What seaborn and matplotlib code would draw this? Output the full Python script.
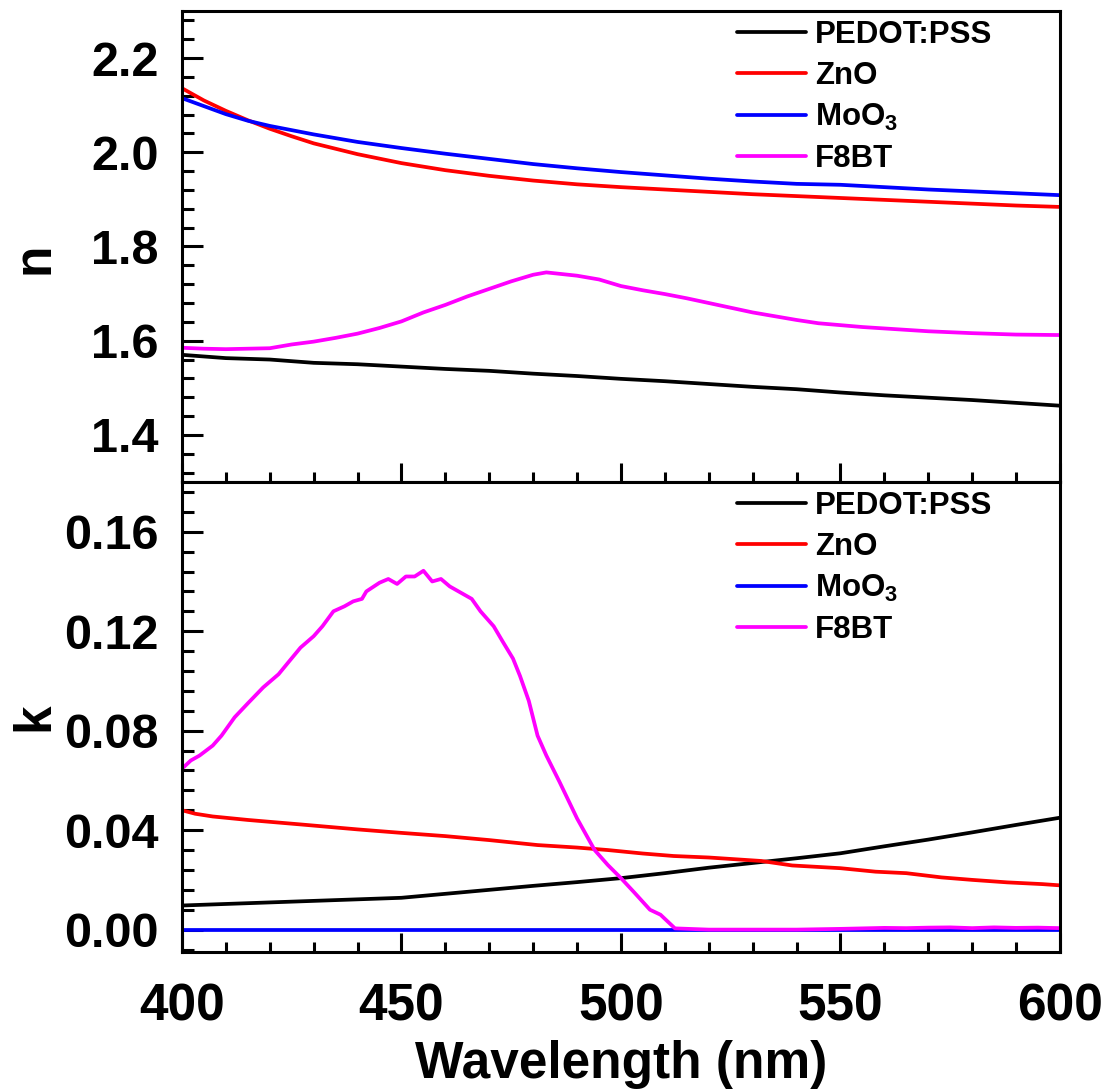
import matplotlib
matplotlib.use('Agg')
import matplotlib.pyplot as plt
from matplotlib.ticker import MultipleLocator, FormatStrFormatter
import seaborn as sns

# --- series names / colours ---
labels = ['PEDOT:PSS', 'ZnO', 'MoO$_3$', 'F8BT']
colors = ['#000000', '#ff0000', '#0000ff', '#ff00ff']

# --- refractive index n ---
wl_pedot_n = [400, 410, 420, 430, 440, 450, 460, 470, 480, 490, 500,
              510, 520, 530, 540, 550, 560, 570, 580, 590, 600]
n_pedot = [1.570, 1.563, 1.560, 1.553, 1.550, 1.545, 1.540, 1.536, 1.530, 1.525, 1.519,
           1.514, 1.508, 1.502, 1.497, 1.490, 1.484, 1.479, 1.474, 1.468, 1.462]

wl_zno_n = [400, 405, 410, 415, 420, 425, 430, 440, 450, 460, 470, 480,
            490, 500, 510, 520, 530, 540, 550, 560, 570, 580, 590, 600]
n_zno = [2.136, 2.110, 2.088, 2.068, 2.050, 2.034, 2.019, 1.996, 1.977, 1.962, 1.950, 1.940,
         1.932, 1.926, 1.921, 1.916, 1.911, 1.907, 1.903, 1.899, 1.895, 1.891, 1.887, 1.884]

wl_moo3_n = [400, 405, 410, 415, 420, 430, 440, 450, 460, 470, 480, 490,
             500, 510, 520, 530, 540, 550, 560, 570, 580, 590, 600]
n_moo3 = [2.115, 2.098, 2.081, 2.067, 2.056, 2.038, 2.022, 2.009, 1.997, 1.986, 1.975, 1.966,
          1.958, 1.951, 1.944, 1.938, 1.933, 1.931, 1.926, 1.921, 1.917, 1.913, 1.909]

wl_f8bt_n = [400, 405, 410, 415, 420, 425, 430, 435, 440, 445, 450, 455, 460, 465,
             470, 475, 480, 483, 485, 490, 495, 500, 505, 510, 515, 520, 525, 530,
             535, 540, 545, 550, 555, 560, 570, 580, 590, 600]
n_f8bt = [1.585, 1.583, 1.582, 1.583, 1.584, 1.592, 1.598, 1.606, 1.615, 1.627, 1.641, 1.660,
          1.676, 1.694, 1.710, 1.726, 1.740, 1.745, 1.743, 1.738, 1.730, 1.716, 1.707, 1.699,
          1.690, 1.680, 1.670, 1.660, 1.652, 1.644, 1.637, 1.633, 1.629, 1.626, 1.620, 1.616,
          1.613, 1.612]

# --- extinction coefficient k ---
wl_pedot_k = [400, 450, 460, 470, 480, 490, 500, 510, 520, 530, 540, 550, 560, 570, 580, 590, 600]
k_pedot = [0.0097, 0.0128, 0.0144, 0.0160, 0.0176, 0.0191, 0.0207, 0.0227, 0.0249, 0.0268,
           0.0287, 0.0307, 0.0335, 0.0362, 0.0391, 0.0421, 0.0450]

wl_zno_k = [400, 403, 407, 415, 427, 440, 450, 460, 470, 481, 490, 497, 505, 512,
            520, 532, 539, 550, 558, 565, 573, 580, 588, 596, 600]
k_zno = [0.0480, 0.0466, 0.0455, 0.0441, 0.0423, 0.0403, 0.0389, 0.0376, 0.0360, 0.0340,
         0.0330, 0.0320, 0.0306, 0.0296, 0.0290, 0.0276, 0.0258, 0.0247, 0.0233, 0.0227,
         0.0210, 0.0200, 0.0190, 0.0183, 0.0178]

wl_moo3_k = [400, 450, 500, 550, 600]
k_moo3 = [0.0, 0.0, 0.0, 0.0, 0.0]

wl_f8bt_k = [400, 402, 404, 407, 409, 412, 415, 418.5, 422, 424, 427, 430, 432, 434.5,
             437, 439, 441, 442, 445, 447, 449, 451, 453, 455, 457, 459, 461, 464, 466,
             468, 471, 473, 475.4, 477, 479, 481, 483, 486, 490, 494, 497, 500, 503,
             506.6, 509, 512.3, 520, 530, 540, 550, 555, 560, 565, 570, 575, 580, 585,
             590, 595, 600]
k_f8bt = [0.0647, 0.0680, 0.0700, 0.0740, 0.0780, 0.0854, 0.0910, 0.0974, 0.1027, 0.1070,
          0.1134, 0.1180, 0.1220, 0.1280, 0.1300, 0.1320, 0.1330, 0.1360, 0.1395, 0.1410,
          0.1390, 0.1420, 0.1420, 0.1443, 0.1400, 0.1410, 0.1380, 0.1350, 0.1330, 0.1280,
          0.1220, 0.1160, 0.1090, 0.1020, 0.0920, 0.0780, 0.0700, 0.0594, 0.0447, 0.0320,
          0.0260, 0.0207, 0.0150, 0.0080, 0.0060, 0.0005, 0.0, 0.0, 0.0, 0.0003, 0.0005,
          0.0007, 0.0006, 0.0008, 0.0009, 0.0006, 0.0009, 0.0007, 0.0008, 0.0006]

n_series = [(wl_pedot_n, n_pedot), (wl_zno_n, n_zno), (wl_moo3_n, n_moo3), (wl_f8bt_n, n_f8bt)]
k_series = [(wl_pedot_k, k_pedot), (wl_zno_k, k_zno), (wl_moo3_k, k_moo3), (wl_f8bt_k, k_f8bt)]

# --- style ---
sns.set_style('ticks')
plt.rcParams['font.family'] = ['Liberation Sans', 'DejaVu Sans']
plt.rcParams['font.weight'] = 'bold'
plt.rcParams['mathtext.fontset'] = 'custom'
plt.rcParams['mathtext.rm'] = 'Liberation Sans:bold'
plt.rcParams['mathtext.it'] = 'Liberation Sans:bold'
plt.rcParams['mathtext.bf'] = 'Liberation Sans:bold'
for key in ['text.color', 'axes.labelcolor', 'xtick.color', 'ytick.color', 'axes.edgecolor']:
    plt.rcParams[key] = 'black'
plt.rcParams['axes.linewidth'] = 2.2

fig = plt.figure(figsize=(11.07, 10.89), dpi=100)
ax_n = fig.add_axes([0.1644, 0.5574, 0.7931, 0.4325])
ax_k = fig.add_axes([0.1644, 0.1258, 0.7931, 0.4316])

for ax, series in [(ax_n, n_series), (ax_k, k_series)]:
    for (wl, vals), lab, col in zip(series, labels, colors):
        sns.lineplot(x=wl, y=vals, color=col, linewidth=2.7, label=lab, ax=ax, estimator=None)
    ax.set_xlim(400, 600)
    ax.xaxis.set_major_locator(MultipleLocator(50))
    ax.xaxis.set_minor_locator(MultipleLocator(10))
    for s in ax.spines.values():
        s.set_visible(True)
        s.set_linewidth(2.2)
        s.set_color('black')
    ax.tick_params(axis='y', which='major', direction='in', length=15, width=2.2,
                   labelsize=35, pad=17, left=True, right=False)
    ax.tick_params(axis='y', which='minor', direction='in', length=8.5, width=2.2,
                   left=True, right=False)
    ax.tick_params(axis='x', which='major', direction='in', length=14, width=2.2,
                   labelsize=37, pad=22, bottom=True, top=False)
    ax.tick_params(axis='x', which='minor', direction='in', length=7, width=2.2,
                   bottom=True, top=False)
    ax.legend(loc='upper left', bbox_to_anchor=(0.632, 0.981), frameon=False,
              fontsize=22.5, handlelength=2.2, handletextpad=0.3, labelspacing=0.35,
              borderpad=0, borderaxespad=0)

ax_n.set_ylim(1.3, 2.3)
ax_n.yaxis.set_major_locator(MultipleLocator(0.2))
ax_n.yaxis.set_minor_locator(MultipleLocator(0.04))
ax_n.yaxis.set_major_formatter(FormatStrFormatter('%.1f'))
ax_n.tick_params(axis='x', labelbottom=False)
ax_n.set_ylabel('n', fontsize=37, fontweight='bold')
ax_n.yaxis.set_label_coords(-0.14, 0.475)
ax_n.set_xlabel('')

ax_k.set_ylim(-0.009, 0.18)
ax_k.yaxis.set_major_locator(MultipleLocator(0.04))
ax_k.yaxis.set_minor_locator(MultipleLocator(0.008))
ax_k.yaxis.set_major_formatter(FormatStrFormatter('%.2f'))
ax_k.set_ylabel('k', fontsize=37, fontweight='bold')
ax_k.yaxis.set_label_coords(-0.14, 0.5)
ax_k.set_xlabel('Wavelength (nm)', fontsize=37, fontweight='bold', labelpad=6)

fig.savefig('out.png', dpi=100)
